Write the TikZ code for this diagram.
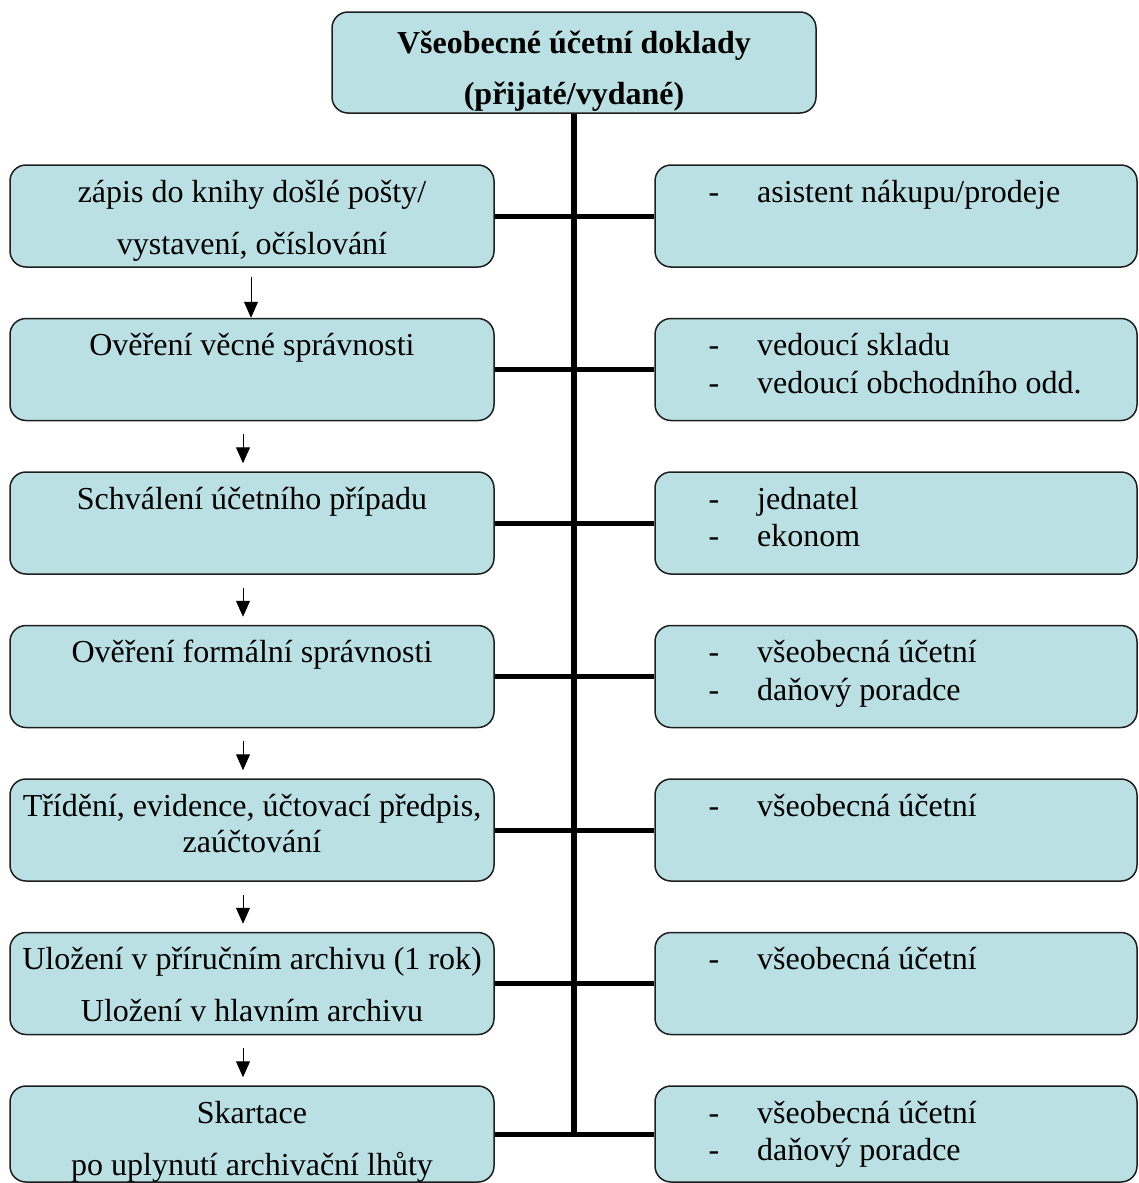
\documentclass[tikz,border=0pt]{standalone}
\usepackage{fontspec}
\setmainfont{Liberation Serif}
\usetikzlibrary{arrows.meta}
\definecolor{boxfill}{RGB}{186,224,228}
\definecolor{boxline}{RGB}{30,30,30}
\tikzset{
  box/.style={draw=boxline, fill=boxfill, line width=1.5pt, rounded corners=16pt, inner sep=0pt},
  lbox/.style={box, minimum width=484pt, minimum height=102pt},
  rbox/.style={box, minimum width=482pt, minimum height=102pt},
  txt/.style={anchor=base, inner sep=0pt, font=\fontsize{32}{38}\selectfont},
  rtxt/.style={anchor=base west, inner sep=0pt, font=\fontsize{32}{38}\selectfont},
  trunk/.style={line width=6pt},
  conn/.style={line width=5pt},
  arr/.style={line width=1pt, -{Triangle[length=16pt,width=14pt]}}
}
\begin{document}
\begin{tikzpicture}[x=1pt,y=-1pt]
\useasboundingbox (0,0) rectangle (1138,1183);
% top box
\node[box, minimum width=484pt, minimum height=101pt] (T) at (574,62.5) {};
\node[txt, font=\fontsize{32}{38}\selectfont\bfseries] (t1) at (574,53) {Všeobecné účetní doklady};
\node[txt, font=\fontsize{32}{38}\selectfont\bfseries] (t2) at (574,104) {(přijaté/vydané)};
% left boxes
\node[lbox] (L1) at (252,216) {};
\node[lbox] (L2) at (252,369.5) {};
\node[lbox] (L3) at (252,523) {};
\node[lbox] (L4) at (252,676.5) {};
\node[lbox] (L5) at (252,830) {};
\node[lbox] (L6) at (252,983.5) {};
\node[lbox, minimum height=96pt] (L7) at (252,1134) {};
% right boxes
\node[rbox] (R1) at (896,216) {};
\node[rbox] (R2) at (896,369.5) {};
\node[rbox] (R3) at (896,523) {};
\node[rbox] (R4) at (896,676.5) {};
\node[rbox] (R5) at (896,830) {};
\node[rbox] (R6) at (896,983.5) {};
\node[rbox, minimum height=96pt] (R7) at (896,1134) {};
% trunk and connectors
\coordinate (trunkend) at (574,1134);
\draw[trunk] (T.south) -- (trunkend);
\foreach \i in {1,...,7}{\draw[conn] (L\i.east) -- (R\i.west);}
% arrows
\draw[arr, shorten <=9pt] ([xshift=-1pt]L1.south) -- ([xshift=-1pt]L2.north);
\foreach \a/\b in {2/3,3/4,4/5,5/6,6/7}{
  \draw[arr, shorten <=13pt, shorten >=8pt] ([xshift=-9pt]L\a.south) -- ([xshift=-9pt]L\b.north);}
% left texts
\node[txt] (l1a) at (252,202) {zápis do knihy došlé pošty/};
\node[txt] (l1b) at (252,254) {vystavení, očíslování};
\node[txt] (l2a) at (252,355.5) {Ověření věcné správnosti};
\node[txt] (l3a) at (252,509) {Schválení účetního případu};
\node[txt] (l4a) at (252,662.5) {Ověření formální správnosti};
\node[txt] (l5a) at (252,816) {Třídění, evidence, účtovací předpis,};
\node[txt] (l5b) at (252,852) {zaúčtování};
\node[txt] (l6a) at (252,969.5) {Uložení v příručním archivu (1 rok)};
\node[txt] (l6b) at (252,1021.5) {Uložení v hlavním archivu};
\node[txt] (l7a) at (252,1123) {Skartace};
\node[txt] (l7b) at (252,1175) {po uplynutí archivační lhůty};
% right texts
\foreach \y/\t [count=\k] in {202/{asistent nákupu/prodeje}, 355.5/{vedoucí skladu}, 393/{vedoucí obchodního odd.}, 509/{jednatel}, 546.5/{ekonom}, 662.5/{všeobecná účetní}, 700/{daňový poradce}, 816/{všeobecná účetní}, 969.5/{všeobecná účetní}, 1123/{všeobecná účetní}, 1160.5/{daňový poradce}}{
  \node[txt] (d\k) at (714,\y) {-};
  \node[rtxt] (r\k) at (757,\y) {\t};
}
\end{tikzpicture}
\end{document}
